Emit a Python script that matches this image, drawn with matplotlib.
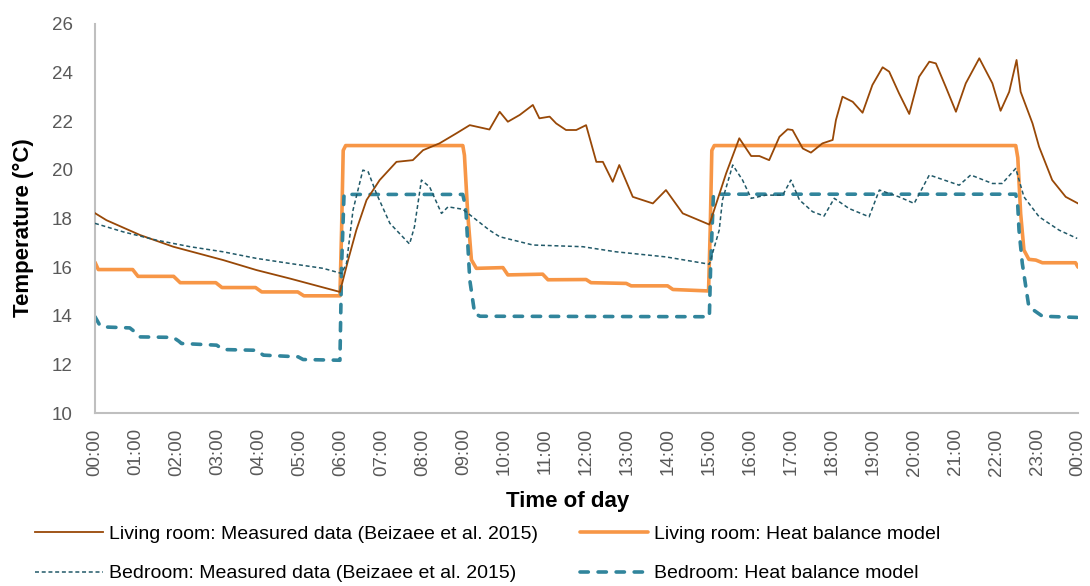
import numpy as np
import matplotlib
matplotlib.use("Agg")
import matplotlib.pyplot as plt
from matplotlib import font_manager

# ---------------- data (hours since midnight, temperature in °C) ----------------
lr_meas_t = [0.00, 0.28, 1.10, 1.91, 3.13, 3.94, 4.76, 5.98, 6.18, 6.38,
             6.63, 6.95, 7.36, 7.76, 8.01, 8.41, 8.82, 9.15, 9.63, 9.88,
             10.08, 10.37, 10.69, 10.85, 11.10, 11.26, 11.50, 11.75, 11.99, 12.24,
             12.40, 12.64, 12.80, 13.13, 13.62, 13.94, 14.35, 15.00, 15.41, 15.73,
             16.02, 16.22, 16.46, 16.71, 16.91, 17.03, 17.28, 17.48, 17.76, 18.01,
             18.09, 18.25, 18.50, 18.74, 18.98, 19.23, 19.39, 19.63, 19.88, 20.12,
             20.37, 20.53, 20.77, 21.02, 21.26, 21.59, 21.91, 22.11, 22.32, 22.50,
             22.60, 22.89, 23.05, 23.37, 23.70, 24.00]
lr_meas_v = [18.22, 17.93, 17.32, 16.84, 16.29, 15.88, 15.53, 14.98, 16.29, 17.52,
             18.76, 19.58, 20.33, 20.40, 20.81, 21.09, 21.50, 21.84, 21.66, 22.39,
             21.98, 22.26, 22.67, 22.12, 22.19, 21.91, 21.64, 21.64, 21.84, 20.33,
             20.33, 19.51, 20.20, 18.89, 18.62, 19.17, 18.21, 17.75, 19.86, 21.30,
             20.57, 20.57, 20.40, 21.36, 21.67, 21.64, 20.88, 20.71, 21.09, 21.23,
             22.05, 23.01, 22.80, 22.35, 23.49, 24.22, 24.04, 23.15, 22.30, 23.83,
             24.45, 24.38, 23.42, 22.39, 23.56, 24.59, 23.56, 22.43, 23.21, 24.52,
             23.21, 21.91, 20.95, 19.58, 18.89, 18.62]

lr_model_t = [0.00, 0.08, 0.92, 1.05, 1.92, 2.08, 2.95, 3.10, 3.92, 4.07,
              4.95, 5.10, 5.98, 6.02, 6.06, 6.12, 8.98, 9.02, 9.10, 9.19,
              9.31, 9.96, 10.08, 10.93, 11.06, 11.99, 12.11, 12.97, 13.09, 13.98,
              14.11, 14.98, 15.02, 15.06, 15.12, 22.48, 22.53, 22.60, 22.68, 22.80,
              22.97, 23.13, 23.94, 24.00]
lr_model_v = [16.20, 15.90, 15.90, 15.62, 15.62, 15.36, 15.36, 15.16, 15.16, 14.98,
              14.98, 14.82, 14.82, 17.50, 20.80, 21.00, 21.00, 20.60, 18.20, 16.30,
              15.95, 15.98, 15.68, 15.71, 15.48, 15.49, 15.36, 15.33, 15.23, 15.23,
              15.08, 15.02, 17.50, 20.80, 21.00, 21.00, 20.50, 18.20, 16.70, 16.32,
              16.29, 16.18, 16.18, 16.00]

br_meas_t = [0.00, 0.69, 1.50, 2.32, 3.13, 3.94, 4.76, 5.57, 6.02, 6.14,
             6.30, 6.54, 6.67, 6.87, 7.20, 7.68, 7.80, 7.97, 8.17, 8.46,
             8.62, 8.98, 9.63, 9.88, 10.69, 11.91, 12.72, 13.94, 15.00, 15.24,
             15.32, 15.57, 15.81, 16.02, 16.38, 16.79, 16.99, 17.20, 17.52, 17.80,
             18.05, 18.41, 18.90, 19.15, 19.63, 20.00, 20.37, 21.10, 21.38, 21.91,
             22.15, 22.48, 22.68, 23.05, 23.54, 23.98]
br_meas_v = [17.80, 17.45, 17.11, 16.84, 16.63, 16.36, 16.15, 15.95, 15.74, 16.15,
             18.35, 19.99, 19.92, 19.03, 17.80, 16.95, 17.66, 19.58, 19.30, 18.21,
             18.48, 18.38, 17.52, 17.25, 16.91, 16.84, 16.63, 16.42, 16.12, 17.52,
             18.76, 20.20, 19.58, 18.83, 18.96, 18.96, 19.58, 18.76, 18.28, 18.10,
             18.83, 18.41, 18.07, 19.17, 18.89, 18.62, 19.79, 19.37, 19.79, 19.44,
             19.44, 20.06, 18.89, 18.07, 17.52, 17.18]

br_model_t = [0.00, 0.12, 0.20, 0.85, 1.00, 1.10, 1.91, 2.05, 2.11, 2.97,
              3.13, 3.94, 4.11, 4.96, 5.08, 5.98, 6.02, 6.08, 8.98, 9.03,
              9.06, 9.15, 9.27, 9.40, 15.00, 15.03, 15.10, 22.48, 22.53, 22.56,
              22.64, 22.80, 23.13, 24.00]
br_model_v = [13.96, 13.60, 13.54, 13.50, 13.30, 13.13, 13.11, 12.95, 12.86, 12.79,
              12.61, 12.58, 12.38, 12.31, 12.20, 12.17, 16.00, 18.99, 18.99, 18.60,
              18.21, 15.47, 14.09, 13.98, 13.96, 16.00, 19.00, 19.00, 18.50, 17.52,
              16.15, 14.37, 13.98, 13.93]

tick_hours = [0, 1, 2, 3, 4, 5, 6, 7, 8, 9, 10, 11, 12,
              13, 14, 15, 16, 17, 18, 19, 20, 21, 22, 23, 24]
tick_labels = ["00:00", "01:00", "02:00", "03:00", "04:00", "05:00", "06:00",
               "07:00", "08:00", "09:00", "10:00", "11:00", "12:00", "13:00",
               "14:00", "15:00", "16:00", "17:00", "18:00", "19:00", "20:00",
               "21:00", "22:00", "23:00", "00:00"]
y_ticks = [10, 12, 14, 16, 18, 20, 22, 24, 26]

series_labels = ["Living room: Measured data (Beizaee et al. 2015)",
                 "Bedroom: Measured data (Beizaee et al. 2015)",
                 "Living room: Heat balance model",
                 "Bedroom: Heat balance model"]

# ---------------- styling ----------------
names = {f.name for f in font_manager.fontManager.ttflist}
narrow = "Liberation Sans Narrow" in names
TICK_FONT = ["Liberation Sans", "DejaVu Sans"]
TEXT_FONT = (["Liberation Sans Narrow", "Liberation Sans", "DejaVu Sans"]
             if narrow else ["Liberation Sans", "DejaVu Sans"])
legend_size = 17 if narrow else 14
title_size = 19 if narrow else 16

C_BROWN = "#984807"
C_ORANGE = "#F79646"
C_TEAL = "#31859C"
C_DTEAL = "#215968"
C_AXIS = "#BFBFBF"
C_TICK = "#595959"

W, H = 1090, 586
fig = plt.figure(figsize=(W / 100, H / 100), dpi=100)
ax = fig.add_axes([95 / W, 1 - 413 / H, (1078 - 95) / W, (413 - 24) / H])

l1, = ax.plot(lr_meas_t, lr_meas_v, color=C_BROWN, lw=1.3,
              solid_joinstyle="round", label=series_labels[0], zorder=3)
l3, = ax.plot(lr_model_t, lr_model_v, color=C_ORANGE, lw=2.6,
              solid_joinstyle="round", solid_capstyle="round",
              label=series_labels[2], zorder=2)
l2, = ax.plot(br_meas_t, br_meas_v, color=C_DTEAL, lw=1.1,
              dashes=(2.6, 1.8), label=series_labels[1], zorder=4)
l4, = ax.plot(br_model_t, br_model_v, color=C_TEAL, lw=2.6,
              dashes=(2.3, 2.7), dash_capstyle="round", dash_joinstyle="round",
              label=series_labels[3], zorder=2)

ax.set_xlim(0, 24)
ax.set_ylim(10, 26)
ax.set_xticks(tick_hours)
ax.set_xticklabels(tick_labels, rotation=90, fontfamily=TICK_FONT,
                   fontsize=13.5, color=C_TICK)
ax.set_yticks(y_ticks)
ax.set_yticklabels([str(v) for v in y_ticks], fontfamily=TICK_FONT,
                   fontsize=13.5, color=C_TICK)
ax.tick_params(axis="both", length=0)
ax.tick_params(axis="y", pad=16)
ax.tick_params(axis="x", pad=11)
for s in ["top", "right"]:
    ax.spines[s].set_visible(False)
for s in ["left", "bottom"]:
    ax.spines[s].set_color(C_AXIS)
    ax.spines[s].set_linewidth(1.5)

fig.text(23 / W, 1 - 228 / H, "Temperature (°C)", rotation=90, ha="center",
         va="center", fontfamily=TEXT_FONT, fontweight="bold",
         fontsize=title_size, color="black")
fig.text(568 / W, 1 - 502 / H, "Time of day", ha="center", va="center",
         fontfamily=TEXT_FONT, fontweight="bold", fontsize=title_size,
         color="black")

leg_kw = dict(frameon=False, prop={"family": TEXT_FONT, "size": legend_size},
              handlelength=68 / (legend_size / 0.72), handletextpad=0.3,
              labelspacing=1.12, borderpad=0, borderaxespad=0,
              loc="center left")
legA = fig.legend([l1, l2], [series_labels[0], series_labels[1]],
                  bbox_to_anchor=(35 / W, 1 - 554 / H), **leg_kw)
legB = fig.legend([l3, l4], [series_labels[2], series_labels[3]],
                  bbox_to_anchor=(580 / W, 1 - 554 / H), **leg_kw)

fig.savefig("out.png", dpi=100)
